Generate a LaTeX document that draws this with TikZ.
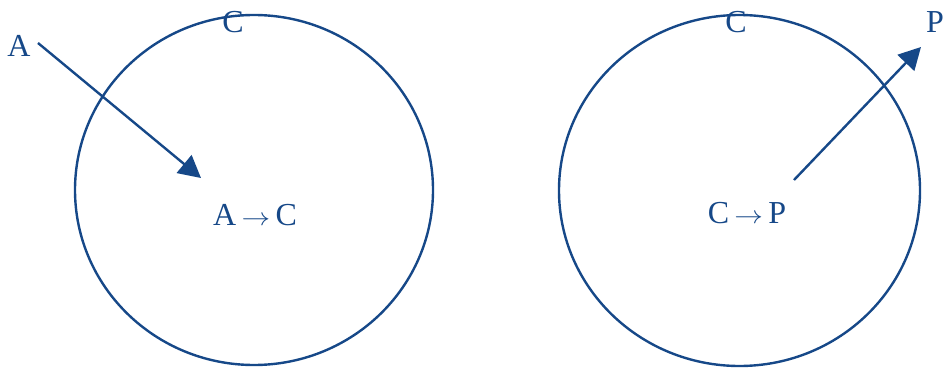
\documentclass[tikz,border=0pt]{standalone}
\usepackage{fontspec}
\setmainfont{Liberation Serif}
\usetikzlibrary{arrows.meta}
\definecolor{dblue}{RGB}{22,72,136}
\begin{document}
\begin{tikzpicture}[x=1pt,y=-1pt,
  ring/.style={draw=dblue,line width=2.4pt},
  lbl/.style={text=dblue,font=\fontsize{32}{34}\selectfont,inner sep=0pt},
  flow/.style={draw=dblue,line width=2.4pt,-{Triangle[length=22pt,width=23pt]}}]
\useasboundingbox (0,0) rectangle (943,369);
\draw[ring] (254,190) ellipse [x radius=179, y radius=175];
\draw[ring] (739.5,190.5) ellipse [x radius=180.5, y radius=175.5];
\node[lbl] (c1) at (233,22) {C};
\node[lbl] (c2) at (736,22) {C};
\node[lbl] (a) at (19,46) {A};
\node[lbl] (p) at (935,22) {P};
\node[lbl] (ac) at (255,215) {A\,\scalebox{1.15}[1]{$\rightarrow$}\,C};
\node[lbl] (cp) at (747,213) {C\,\scalebox{1.15}[1]{$\rightarrow$}\,P};
\coordinate (a0) at (38,43);
\coordinate (a1) at (201,178);
\coordinate (p0) at (794,180);
\coordinate (p1) at (921,47);
\draw[flow] (a0) -- (a1);
\draw[flow] (p0) -- (p1);
\end{tikzpicture}
\end{document}
